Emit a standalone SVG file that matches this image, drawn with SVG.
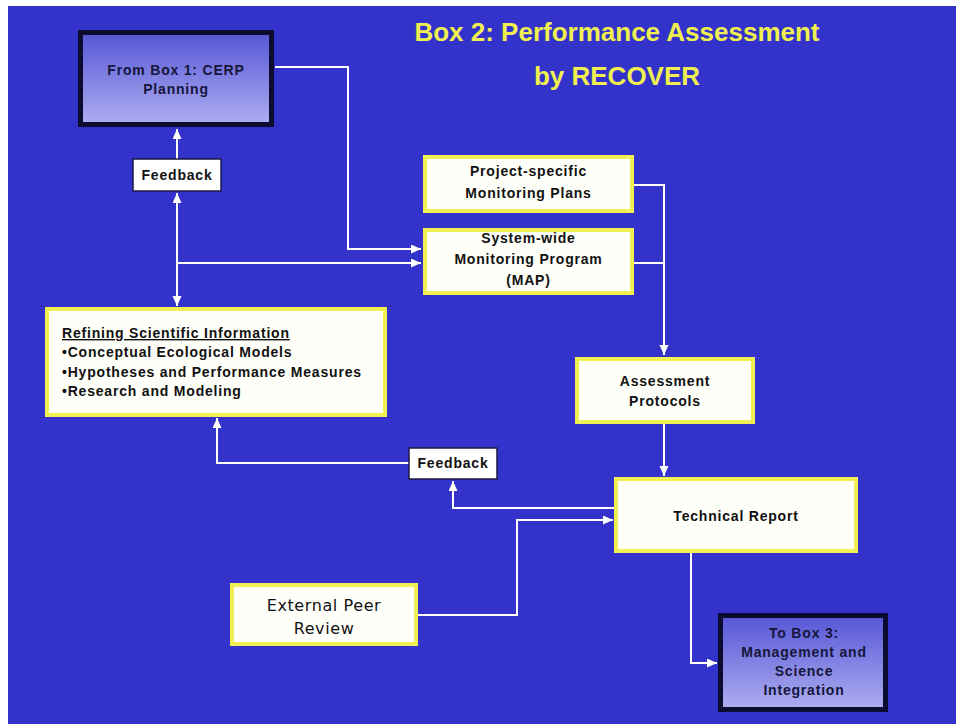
<svg xmlns="http://www.w3.org/2000/svg" width="956" height="724" viewBox="0 0 956 724">
  <defs>
    <linearGradient id="navyGrad" x1="0" y1="0" x2="0" y2="1">
      <stop offset="0" stop-color="#5656d6"/>
      <stop offset="1" stop-color="#aeaef0"/>
    </linearGradient>
    <marker id="arrow" markerUnits="userSpaceOnUse" markerWidth="11" markerHeight="10" refX="10" refY="4.5" orient="auto">
      <path d="M0,0 L10,4.5 L0,9 z" fill="#ffffff"/>
    </marker>
    <style>
      .title { font-family: "Liberation Sans", Arial, sans-serif; font-weight: bold; font-size: 26px; fill: #efef4f; text-anchor: middle; }
      .lbl { font-family: "Liberation Sans", Arial, sans-serif; font-weight: bold; font-size: 14px; letter-spacing: 0.8px; fill: #111111; text-anchor: middle; }
      .lblL { font-family: "Liberation Sans", Arial, sans-serif; font-weight: bold; font-size: 14px; letter-spacing: 0.8px; fill: #111111; }
      .navyTxt { fill: #16163c; }
      .ext { font-family: "DejaVu Sans", sans-serif; font-size: 16px; letter-spacing: 0.6px; fill: #111111; text-anchor: middle; }
      .yBox { fill: #fffffa; stroke: #f0f052; stroke-width: 4; }
      .nBox { fill: url(#navyGrad); stroke: #0c0c30; stroke-width: 5; }
      .fBox { fill: #ffffff; stroke: #1a1a40; stroke-width: 1.5; }
      .conn { fill: none; stroke: #ffffff; stroke-width: 2; }
    </style>
  </defs>

  <rect x="0" y="0" width="956" height="724" fill="#ffffff"/>
  <rect x="8" y="6" width="948" height="718" fill="#3333cc"/>

  <g id="title">
    <text class="title" x="617" y="41">Box 2: Performance Assessment</text>
    <text class="title" x="617" y="85">by RECOVER</text>
  </g>

  <g id="connectors">
    <path class="conn" d="M275,67 H348 V249 H421" marker-end="url(#arrow)"/>
    <path class="conn" d="M177,159 V129" marker-end="url(#arrow)"/>
    <path class="conn" d="M177,263 V193" marker-end="url(#arrow)"/>
    <path class="conn" d="M177,263 V306" marker-end="url(#arrow)"/>
    <path class="conn" d="M177,263 H421" marker-end="url(#arrow)"/>
    <path class="conn" d="M634,185 H664 V355" marker-end="url(#arrow)"/>
    <path class="conn" d="M634,263 H664"/>
    <path class="conn" d="M664,424 V476" marker-end="url(#arrow)"/>
    <path class="conn" d="M614,508 H453 V481" marker-end="url(#arrow)"/>
    <path class="conn" d="M409,463 H217 V418" marker-end="url(#arrow)"/>
    <path class="conn" d="M418,615 H517 V520 H613" marker-end="url(#arrow)"/>
    <path class="conn" d="M691,552 V663 H717" marker-end="url(#arrow)"/>
  </g>

  <g id="from-box1">
    <rect class="nBox" x="80.5" y="32.5" width="191" height="92"/>
    <text class="lbl navyTxt" x="176" y="75">From Box 1: CERP</text>
    <text class="lbl navyTxt" x="176" y="94">Planning</text>
  </g>

  <g id="feedback-top">
    <rect class="fBox" x="133" y="159" width="88" height="32"/>
    <text class="lbl" x="177" y="180">Feedback</text>
  </g>

  <g id="project-specific">
    <rect class="yBox" x="425" y="157" width="207" height="54"/>
    <text class="lbl" x="528.5" y="176">Project-specific</text>
    <text class="lbl" x="528.5" y="198">Monitoring Plans</text>
  </g>

  <g id="system-wide">
    <rect class="yBox" x="425" y="230" width="207" height="63"/>
    <text class="lbl" x="528.5" y="243">System-wide</text>
    <text class="lbl" x="528.5" y="264">Monitoring Program</text>
    <text class="lbl" x="528.5" y="285">(MAP)</text>
  </g>

  <g id="refining">
    <rect class="yBox" x="47" y="309" width="338" height="106"/>
    <text class="lblL" x="62" y="338" text-decoration="underline">Refining Scientific Information</text>
    <text class="lblL" x="62" y="357">•Conceptual Ecological Models</text>
    <text class="lblL" x="62" y="377">•Hypotheses and Performance Measures</text>
    <text class="lblL" x="62" y="396">•Research and Modeling</text>
  </g>

  <g id="assessment">
    <rect class="yBox" x="577" y="359" width="176" height="63"/>
    <text class="lbl" x="665" y="386">Assessment</text>
    <text class="lbl" x="665" y="406">Protocols</text>
  </g>

  <g id="feedback-bottom">
    <rect class="fBox" x="409" y="448" width="88" height="31"/>
    <text class="lbl" x="453" y="468">Feedback</text>
  </g>

  <g id="technical-report">
    <rect class="yBox" x="616" y="479" width="240" height="72"/>
    <text class="lbl" x="736" y="521">Technical Report</text>
  </g>

  <g id="external-peer-review">
    <rect class="yBox" x="232" y="585" width="184" height="59"/>
    <text class="ext" x="324" y="611">External Peer</text>
    <text class="ext" x="324" y="634">Review</text>
  </g>

  <g id="to-box3">
    <rect class="nBox" x="720.5" y="615.5" width="165" height="94"/>
    <text class="lbl navyTxt" x="804" y="638">To Box 3:</text>
    <text class="lbl navyTxt" x="804" y="657">Management and</text>
    <text class="lbl navyTxt" x="804" y="676">Science</text>
    <text class="lbl navyTxt" x="804" y="695">Integration</text>
  </g>
</svg>
